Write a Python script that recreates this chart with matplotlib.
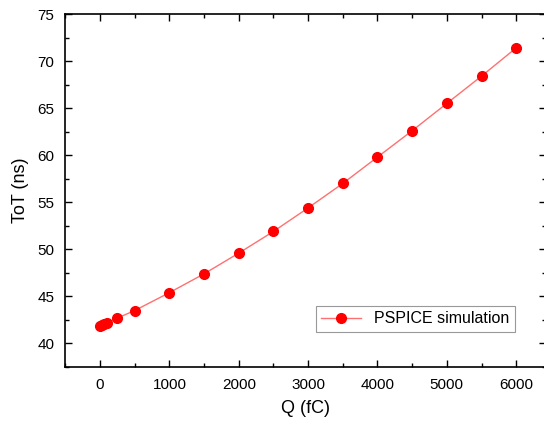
import matplotlib.pyplot as plt
from matplotlib.ticker import MultipleLocator

plt.rcParams['font.family'] = ['Liberation Sans', 'DejaVu Sans']

# charge (fC) and time-over-threshold (ns)
q = [0, 25, 50, 100, 250, 500, 1000, 1500, 2000, 2500, 3000,
     3500, 4000, 4500, 5000, 5500, 6000]
tot = [41.9, 42.0, 42.1, 42.2, 42.7, 43.5, 45.4, 47.4, 49.6, 51.9, 54.4,
       57.0, 59.8, 62.6, 65.5, 68.4, 71.4]

fig = plt.figure(figsize=(5.44, 4.25), dpi=100)
ax = fig.add_axes([65.4 / 544, 1 - 367 / 425, (546 - 65.4) / 544, (367 - 14) / 425])

ax.plot(q, tot, color='#ff7070', lw=1, zorder=1)
ax.plot(q, tot, 'o', color='red', ms=7, zorder=2)
line, = ax.plot([], [], '-o', color='#ff7070', ms=7, lw=1,
                mfc='red', mec='red')

ax.set_xlim(-500, 6430)
ax.set_ylim(37.5, 75)
ax.xaxis.set_major_locator(MultipleLocator(1000))
ax.xaxis.set_minor_locator(MultipleLocator(500))
ax.yaxis.set_major_locator(MultipleLocator(5))
ax.yaxis.set_minor_locator(MultipleLocator(2.5))
ax.tick_params(which='both', direction='in', top=True, right=True,
               labelsize=11, width=1)
ax.tick_params(which='major', length=5, pad=8)
ax.tick_params(which='minor', length=3)
for s in ax.spines.values():
    s.set_linewidth(1.2)

ax.set_xlabel('Q (fC)', fontsize=13, labelpad=6)
ax.set_ylabel('ToT (ns)', fontsize=13, labelpad=6)

leg = ax.legend([line], ['PSPICE simulation'], loc='lower right',
                bbox_to_anchor=(0.935, 0.1), borderaxespad=0, fontsize=11.5,
                fancybox=False, framealpha=1, edgecolor='#999999',
                handlelength=2.5, borderpad=0.35)
leg.get_frame().set_linewidth(0.8)

fig.savefig('out.png', dpi=100)
